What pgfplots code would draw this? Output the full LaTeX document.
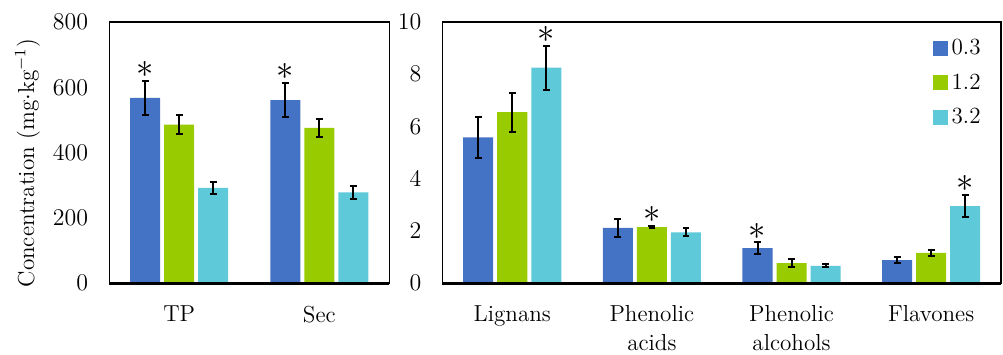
\documentclass[border=0pt]{standalone}
\usepackage{pgfplots}
\pgfplotsset{compat=1.18}
\definecolor{cBlue}{RGB}{68,114,196}
\definecolor{cGreen}{RGB}{153,204,0}
\definecolor{cCyan}{RGB}{94,201,217}
\pgfplotsset{
  myaxis/.style={
    scale only axis, height=130.5bp, ymin=0,
    ybar=2bp, bar width=15bp,
    axis line style={line width=0.6bp},
    tick style={draw=none},
    tick label style={font=\fontsize{11.6}{14.5}\selectfont},
    yticklabel style={xshift=-7bp},
    xticklabel style={align=center, yshift=-3.5bp},
    clip=false,
    extra description/.code={\draw[line width=1.3bp] (rel axis cs:0,0) -- (rel axis cs:1,0);},
  },
  mybar/.style={fill=#1, draw=none,
    error bars/.cd, y dir=both, y explicit,
    error bar style={line width=1bp, black},
    error mark options={rotate=90, line width=1bp, mark size=1.7bp, black}},
  mystar/.style={sharp plot, draw=none, forget plot, mark=none, /pgf/bar shift=0pt,
    nodes near coords={$\ast$},
    every node near coord/.append style={anchor=center, xshift=#1, yshift=5.5bp, font=\fontsize{16}{16}\selectfont, black}},
}
\begin{document}
\begin{tikzpicture}
\path[use as bounding box] (-54.5bp,-35.5bp) rectangle (446.5bp,141.5bp);
\begin{axis}[myaxis, at={(0,0)}, anchor=south west, width=140bp,
  xmin=-0.5, xmax=1.5, xtick={0,1}, xticklabels={TP,Sec},
  ymax=800, ytick={0,200,400,600,800},
  ylabel={Concentration (mg$\cdot$kg$^{-1}$)},
  ylabel style={at={(rel axis cs:0,0.46)}, anchor=center, yshift=40.75bp, font=\fontsize{11.6}{13}\selectfont},
]
\addplot[mybar=cBlue] coordinates {(0,568) +- (0,52) (1,561) +- (0,53)};
\addplot[mybar=cGreen] coordinates {(0,486) +- (0,28) (1,476) +- (0,28)};
\addplot[mybar=cCyan] coordinates {(0,292) +- (0,18) (1,278) +- (0,19)};
\addplot[mystar=-17bp] coordinates {(0,622) (1,614)};
\end{axis}
\begin{axis}[myaxis, at={(166.5bp,0)}, anchor=south west, width=279bp,
  xmin=-0.5, xmax=3.5, xtick={0,1,2,3},
  xticklabels={Lignans,Phenolic\\acids,Phenolic\\alcohols,Flavones},
  ymax=10, ytick={0,2,4,6,8,10},
  legend style={draw=none, fill=none, at={(1,1)}, anchor=north east, xshift=-8bp, yshift=-6.5bp,
    row sep=4bp, font=\fontsize{11.6}{13}\selectfont, inner sep=0pt},
  legend cell align=left,
  legend image code/.code={\fill[#1] (0bp,-3.75bp) rectangle (7.5bp,3.75bp);},
]
\addplot[mybar=cBlue] coordinates {(0,5.58) +- (0,0.77) (1,2.12) +- (0,0.33) (2,1.35) +- (0,0.22) (3,0.89) +- (0,0.12)};
\addplot[mybar=cGreen] coordinates {(0,6.55) +- (0,0.75) (1,2.15) +- (0,0.05) (2,0.77) +- (0,0.15) (3,1.16) +- (0,0.10)};
\addplot[mybar=cCyan] coordinates {(0,8.25) +- (0,0.85) (1,1.95) +- (0,0.15) (2,0.67) +- (0,0.05) (3,2.95) +- (0,0.43)};
\legend{0.3,1.2,3.2}
\addplot[mystar=-17bp] coordinates {(2,1.57)};
\addplot[mystar=0bp] coordinates {(1,2.20)};
\addplot[mystar=17bp] coordinates {(0,9.10) (3,3.38)};
\end{axis}
\end{tikzpicture}
\end{document}
